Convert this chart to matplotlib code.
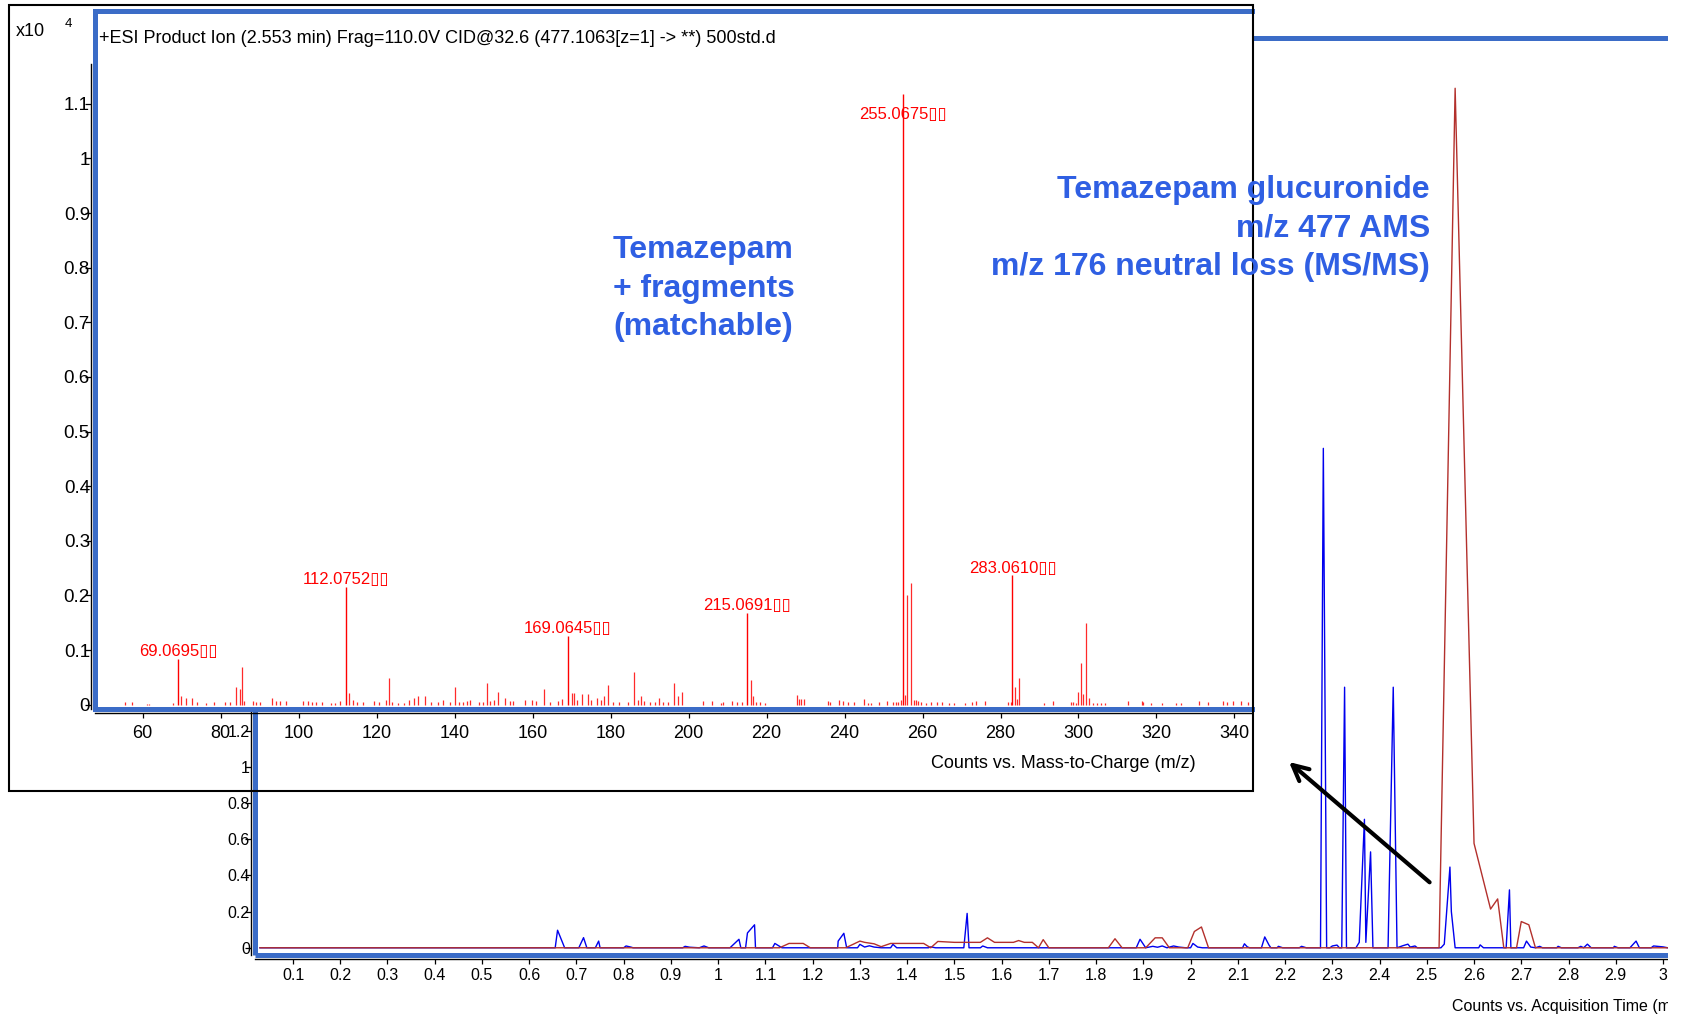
import matplotlib.pyplot as plt
from matplotlib.patches import Rectangle, FancyArrowPatch
from matplotlib.ticker import FixedLocator, FuncFormatter

W, H = 1683, 1016

# ---- product ion spectrum (counts x10^4) ----
label_mz = [69.0695, 112.0752, 169.0645, 215.0691, 255.0675, 283.0610]
label_h = [0.084, 0.216, 0.1255, 0.168, 1.118, 0.237]

minor_mz = [55.5, 57.2, 61.0, 61.5, 67.8, 69.9, 71.0, 72.6, 74.0, 76.2, 78.3, 81.0, 82.5,
            84.0, 84.9, 85.4, 86.0, 88.3, 89.0, 90.0, 93.1, 94.2, 95.3, 96.8, 101.0, 102.3,
            103.5, 104.5, 106.0, 108.3, 109.3, 110.6, 112.9, 113.9, 115.0, 116.5, 119.3,
            120.5, 122.3, 123.1, 124.0, 125.5, 127.0, 128.4, 129.6, 130.6, 132.3, 134.0,
            135.8, 137.1, 138.9, 140.2, 141.2, 142.2, 143.1, 144.0, 146.2, 147.2, 148.2,
            149.1, 150.0, 151.1, 152.9, 154.1, 155.1, 158.0, 159.8, 161.0, 163.0, 164.5,
            166.5, 167.6, 170.1, 170.6, 171.5, 172.7, 174.2, 175.1, 176.6, 177.6, 178.4,
            179.4, 180.5, 182.1, 184.5, 186.0, 187.0, 187.8, 188.6, 190.2, 191.3, 192.5,
            193.4, 194.8, 196.3, 197.3, 198.4, 203.8, 205.9, 208.3, 208.8, 211.1, 212.5,
            213.6, 216.1, 216.6, 217.3, 218.4, 219.6, 227.7, 228.3, 228.9, 229.5, 235.8,
            236.4, 238.6, 239.6, 241.0, 242.3, 244.9, 246.0, 246.8, 248.8, 250.8, 252.5,
            253.2, 253.8, 254.5, 255.6, 256.07, 257.07, 257.7, 258.3, 258.9, 259.6, 260.8,
            262.3, 263.7, 264.9, 266.9, 268.2, 270.8, 272.8, 273.6, 276.0, 282.0, 282.6,
            283.8, 284.3, 284.8, 291.2, 293.4, 298.0, 298.6, 299.4, 299.9, 300.6, 301.1,
            301.8, 302.8, 303.6, 304.7, 305.8, 306.9, 312.8, 316.2, 316.6, 318.5, 321.3,
            325.1, 326.4, 330.8, 333.2, 337.0, 338.1, 339.7, 341.8, 343.4]
minor_h = [0.004, 0.004, 0.002, 0.002, 0.003, 0.016, 0.012, 0.012, 0.004, 0.003, 0.005, 0.005, 0.005,
           0.032, 0.028, 0.068, 0.006, 0.006, 0.004, 0.005, 0.012, 0.006, 0.006, 0.006, 0.006, 0.006,
           0.004, 0.005, 0.004, 0.003, 0.003, 0.006, 0.021, 0.008, 0.005, 0.005, 0.006,
           0.004, 0.008, 0.048, 0.004, 0.003, 0.003, 0.008, 0.012, 0.016, 0.016, 0.005,
           0.005, 0.008, 0.004, 0.032, 0.005, 0.005, 0.006, 0.008, 0.004, 0.005, 0.040,
           0.006, 0.008, 0.024, 0.012, 0.006, 0.006, 0.008, 0.008, 0.006, 0.028, 0.004,
           0.006, 0.010, 0.021, 0.021, 0.008, 0.020, 0.020, 0.008, 0.012, 0.008, 0.015,
           0.036, 0.004, 0.004, 0.005, 0.060, 0.008, 0.016, 0.006, 0.004, 0.005, 0.012,
           0.005, 0.005, 0.040, 0.016, 0.024, 0.006, 0.006, 0.003, 0.005, 0.006, 0.005,
           0.004, 0.045, 0.016, 0.005, 0.004, 0.003, 0.018, 0.010, 0.010, 0.010, 0.006,
           0.004, 0.008, 0.006, 0.005, 0.004, 0.010, 0.003, 0.003, 0.005, 0.006, 0.004,
           0.004, 0.004, 0.008, 0.018, 0.200, 0.2235, 0.008, 0.008, 0.007, 0.005, 0.003,
           0.005, 0.004, 0.005, 0.003, 0.003, 0.003, 0.004, 0.006, 0.007, 0.005, 0.005,
           0.032, 0.010, 0.048, 0.003, 0.006, 0.004, 0.005, 0.003, 0.024, 0.076, 0.020,
           0.150, 0.012, 0.003, 0.003, 0.003, 0.003, 0.006, 0.006, 0.004, 0.003, 0.003,
           0.003, 0.003, 0.006, 0.004, 0.006, 0.004, 0.006, 0.006, 0.004]

# ---- chromatogram ----
blue_t = [0.03, 0.655, 0.66, 0.675, 0.705, 0.715, 0.722, 0.74, 0.747, 0.75, 0.80, 0.805, 0.815,
          0.82, 0.925, 0.93, 0.94, 0.96, 0.97, 0.98, 1.025, 1.044, 1.048, 1.058, 1.062, 1.077,
          1.079, 1.115, 1.12, 1.135, 1.253, 1.254, 1.266, 1.272, 1.295, 1.30, 1.31, 1.32, 1.33,
          1.345, 1.365, 1.37, 1.378, 1.445, 1.45, 1.46, 1.52, 1.527, 1.531, 1.555, 1.56, 1.57,
          1.885, 1.893, 1.905, 1.92, 1.93, 1.94, 1.95, 1.964, 1.975, 1.99, 2.0, 2.005, 2.015,
          2.025, 2.11, 2.114, 2.12, 2.125, 2.15, 2.157, 2.166, 2.17, 2.183, 2.186, 2.195, 2.23,
          2.235, 2.245, 2.275, 2.281, 2.288, 2.295, 2.30, 2.31, 2.315, 2.32, 2.326, 2.330, 2.35,
          2.357, 2.368, 2.371, 2.381, 2.386, 2.418, 2.429, 2.437, 2.45, 2.46, 2.465, 2.475, 2.48,
          2.53, 2.537, 2.549, 2.552, 2.56, 2.61, 2.613, 2.62, 2.668, 2.675, 2.678, 2.705, 2.711,
          2.72, 2.73, 2.739, 2.745, 2.775, 2.778, 2.785, 2.82, 2.826, 2.832, 2.84, 2.848, 2.895,
          2.897, 2.905, 2.93, 2.943, 2.95, 2.975, 2.98, 3.0, 3.01]
blue_v = [0, 0, 0.097, 0, 0, 0.056, 0, 0, 0.037, 0, 0, 0.01, 0.004,
          0, 0, 0.008, 0.003, 0, 0.01, 0, 0, 0.047, 0, 0, 0.082, 0.127,
          0, 0, 0.024, 0, 0, 0.037, 0.08, 0, 0, 0.019, 0.004, 0.011, 0.004,
          0, 0, 0.019, 0, 0, 0.005, 0, 0, 0.19, 0, 0, 0.01, 0,
          0, 0.047, 0, 0.008, 0.003, 0.01, 0, 0.01, 0.004, 0, 0, 0.024, 0.004,
          0, 0, 0.022, 0.005, 0, 0, 0.06, 0.015, 0, 0, 0.008, 0, 0,
          0.008, 0, 0, 2.76, 0, 0, 0.01, 0.015, 0, 0, 1.44, 0, 0,
          0.03, 0.71, 0.03, 0.53, 0, 0, 1.44, 0, 0.012, 0.02, 0.004, 0.01, 0,
          0, 0.02, 0.446, 0.2, 0, 0, 0.016, 0, 0, 0.32, 0, 0, 0.037,
          0.004, 0, 0.008, 0, 0, 0.008, 0, 0, 0.008, 0, 0.02, 0, 0,
          0.008, 0, 0, 0.037, 0, 0, 0.01, 0.005, 0]

red_t = [0.03, 1.13, 1.15, 1.18, 1.195, 1.27, 1.30, 1.31, 1.33, 1.345, 1.365, 1.435, 1.45,
         1.465, 1.5, 1.555, 1.57, 1.585, 1.625, 1.636, 1.648, 1.665, 1.678, 1.688, 1.70,
         1.826, 1.84, 1.855, 1.905, 1.925, 1.94, 1.955, 1.994, 2.008, 2.023, 2.038, 2.526,
         2.56, 2.60, 2.635, 2.65, 2.663, 2.69, 2.70, 2.716, 2.73, 3.01]
red_v = [0, 0, 0.024, 0.024, 0, 0, 0.037, 0.03, 0.022, 0.006, 0.024, 0.024, 0,
         0.035, 0.03, 0.03, 0.055, 0.03, 0.03, 0.04, 0.03, 0.03, 0, 0.045, 0,
         0, 0.05, 0, 0, 0.055, 0.055, 0, 0, 0.09, 0.115, 0, 0,
         4.75, 0.577, 0.214, 0.27, 0, 0, 0.145, 0.127, 0, 0]

spec_xticks = list(range(60, 341, 20))
spec_yticks = [round(0.1 * i, 1) for i in range(12)]
chrom_xticks = [round(0.1 * i, 1) for i in range(1, 31)]
chrom_yticks = [round(0.2 * i, 1) for i in range(26)]

BLUE_FRAME = '#3b6cc7'
NOTE_BLUE = '#2f5fe3'

plt.rcParams['font.family'] = ['Liberation Sans', 'DejaVu Sans']
fig = plt.figure(figsize=(W / 100, H / 100), dpi=100)


def box(x0, y0, x1, y1):
    return [x0 / W, 1 - y1 / H, (x1 - x0) / W, (y1 - y0) / H]


def fx(x):
    return x / W


def fy(y):
    return 1 - y / H


fmt = FuncFormatter(lambda v, p: f'{v:g}')

# background chromatogram
ax_c = fig.add_axes(box(255.4, 37.6, 1668, 955.2), zorder=1)
ax_c.set_xlim(0.0204, 3.0106)
ax_c.set_ylim(-0.041, 5.03)
ax_c.plot(blue_t, blue_v, color='#0000ee', lw=1.0)
ax_c.plot(red_t, red_v, color='#b3302c', lw=1.0)
ax_c.xaxis.set_major_locator(FixedLocator(chrom_xticks))
ax_c.yaxis.set_major_locator(FixedLocator(chrom_yticks))
ax_c.xaxis.set_major_formatter(fmt)
ax_c.yaxis.set_major_formatter(fmt)
ax_c.tick_params(axis='x', direction='out', length=3.5, width=0.9, labelsize=11.5, pad=2.5)
ax_c.tick_params(axis='y', direction='out', length=4, width=0.9, labelsize=11.5, pad=-3)
for s in ['top', 'right']:
    ax_c.spines[s].set_visible(False)
for s in ['left', 'bottom']:
    ax_c.spines[s].set_position(('outward', 3))
    ax_c.spines[s].set_linewidth(1.0)
for xs, ys in [([0, 0], [0, 1]), ([0, 1], [0, 0]), ([0, 1], [1, 1])]:
    ax_c.plot(xs, ys, transform=ax_c.transAxes, color=BLUE_FRAME, lw=3.6,
              clip_on=False, solid_capstyle='butt')

# inset product ion spectrum
ax_s = fig.add_axes(box(95.5, 11, 1252, 709), zorder=3)
ax_s.set_facecolor('white')
ax_s.set_xlim(47.9, 344.5)
ax_s.set_ylim(-0.008, 1.270)
ax_s.vlines(minor_mz, 0, minor_h, color='#ff2a2a', lw=0.9)
ax_s.vlines(label_mz, 0, label_h, color='#ff0000', lw=1.0)
for m, h in zip(label_mz, label_h):
    ax_s.text(m, min(h + 0.013, 1.08), f'{m:.4f}\u25af\u25af', color='#ff0000',
              fontsize=12, ha='center', va='center')
ax_s.xaxis.set_major_locator(FixedLocator(spec_xticks))
ax_s.yaxis.set_major_locator(FixedLocator(spec_yticks))
ax_s.xaxis.set_major_formatter(fmt)
ax_s.yaxis.set_major_formatter(fmt)
ax_s.tick_params(axis='x', direction='out', length=3.5, width=0.9, labelsize=13, pad=5)
ax_s.tick_params(axis='y', direction='out', length=4, width=0.9, labelsize=13.5, pad=-3)
for s in ['top', 'right']:
    ax_s.spines[s].set_visible(False)
for s in ['left', 'bottom']:
    ax_s.spines[s].set_position(('outward', 3))
    ax_s.spines[s].set_linewidth(1.0)
ax_s.spines['left'].set_bounds(-0.008, 1.173)
for xs, ys in [([0, 0], [0, 1]), ([0, 1], [0, 0]), ([0, 1], [1, 1])]:
    ax_s.plot(xs, ys, transform=ax_s.transAxes, color=BLUE_FRAME, lw=3.6,
              clip_on=False, solid_capstyle='projecting')

fig.add_artist(Rectangle((fx(8.6), fy(791)), (1252.6 - 8.6) / W, (791 - 5.4) / H,
                         transform=fig.transFigure, fill=False, edgecolor='black',
                         lw=1.5, zorder=5))

fig.text(fx(98.7), fy(38.6),
         '+ESI Product Ion (2.553 min) Frag=110.0V CID@32.6 (477.1063[z=1] -> **) 500std.d',
         fontsize=13, ha='left', va='center', zorder=6)
fig.text(fx(16), fy(31), 'x10', fontsize=13, ha='left', va='center', zorder=6)
fig.text(fx(65), fy(23.6), '4', fontsize=9.5, ha='left', va='center', zorder=6)
fig.text(fx(1196), fy(763), 'Counts vs. Mass-to-Charge (m/z)', fontsize=13,
         ha='right', va='center', zorder=6)
fig.text(fx(1452), fy(1007), 'Counts vs. Acquisition Time (min)', fontsize=11.5,
         ha='left', va='center', zorder=6)

fig.text(fx(613), fy(288.5), 'Temazepam\n+ fragments\n(matchable)', fontsize=23,
         fontweight='bold', color=NOTE_BLUE, ha='left', va='center', linespacing=1.38,
         zorder=6)
fig.text(fx(1430), fy(228.5),
         'Temazepam glucuronide\nm/z 477 AMS\nm/z 176 neutral loss (MS/MS)',
         fontsize=23, fontweight='bold', color=NOTE_BLUE, ha='right', va='center',
         multialignment='right', linespacing=1.38, zorder=6)

fig.add_artist(FancyArrowPatch((fx(1429.6), fy(882.3)), (fx(1289), fy(762)),
                               transform=fig.transFigure, arrowstyle='->',
                               mutation_scale=28, lw=3, color='black',
                               shrinkA=0, shrinkB=0, zorder=6))

# original screenshot is cut at the right edge
fig.add_artist(Rectangle((fx(1668), 0), (W - 1668) / W, 1, transform=fig.transFigure,
                         facecolor='white', edgecolor='none', zorder=20))

fig.savefig('out.png', dpi=100, facecolor='white')
